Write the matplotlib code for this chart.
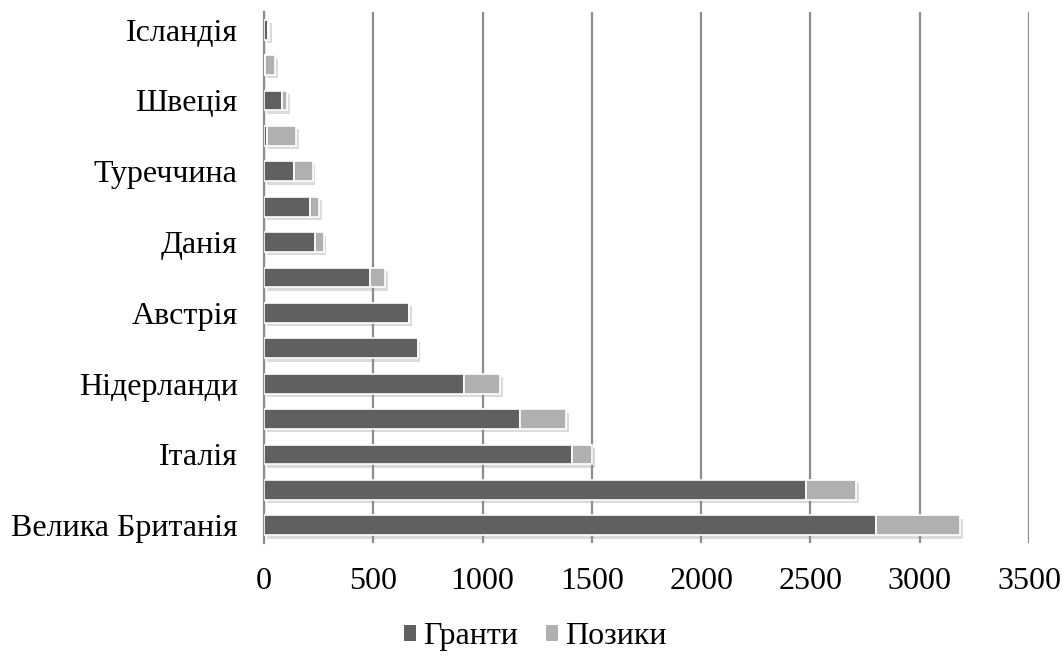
import matplotlib
matplotlib.use('Agg')
import matplotlib.pyplot as plt
import matplotlib.patheffects as pe
from matplotlib.patches import Patch
import numpy as np

plt.rcParams['font.family'] = ['Liberation Serif', 'DejaVu Serif']

# Дані (зверху вниз на графіку)
labels = ['Ісландія', '', 'Швеція', '', 'Туреччина', '', 'Данія', '',
          'Австрія', '', 'Нідерланди', '', 'Італія', '', 'Велика Британія']
granty = [18, 5, 84, 15, 136, 212, 235, 486, 665, 703, 913, 1171, 1407, 2482, 2800]
pozyky = [7, 45, 23, 131, 86, 41, 38, 69, 0, 0, 167, 213, 96, 226, 384]

# Порядок знизу вгору
labels = labels[::-1]
granty = granty[::-1]
pozyky = pozyky[::-1]
y = np.arange(len(labels))

fig = plt.figure(figsize=(10.64, 6.58), dpi=100)
ax = fig.add_axes([0.2481, 0.1748, 0.719, 0.807])

shadow = [pe.SimplePatchShadow(offset=(2, -2.5), shadow_rgbFace='#888888', alpha=0.3), pe.Normal()]

b1 = ax.barh(y, granty, height=0.56, color='#606060', edgecolor='white', linewidth=1.2, zorder=3)
b2 = ax.barh(y, pozyky, left=granty, height=0.56, color='#b0b0b0', edgecolor='white',
             linewidth=1.2, zorder=3)
for bar in list(b1) + list(b2):
    bar.set_path_effects(shadow)

ax.set_xlim(0, 3500)
ax.set_ylim(-0.5, len(labels) - 0.5)
ax.set_xticks(np.arange(0, 3501, 500))
ax.set_yticks(y)
ax.set_yticklabels(labels)
ax.tick_params(axis='both', length=0, labelsize=23)
ax.tick_params(axis='y', pad=19)
ax.tick_params(axis='x', pad=17)
ax.grid(axis='x', color='#8c8c8c', linewidth=1.6, zorder=0)
ax.set_axisbelow(True)

for s in ['top', 'right', 'bottom']:
    ax.spines[s].set_visible(False)
ax.spines['left'].set_color('#8c8c8c')
ax.spines['left'].set_linewidth(1.6)

handles = [Patch(facecolor='#606060', label='Гранти'), Patch(facecolor='#b0b0b0', label='Позики')]
fig.legend(handles=handles, loc='center', bbox_to_anchor=(0.503, 0.032), ncol=2,
           frameon=False, fontsize=23, handlelength=0.38, handleheight=0.38,
           handletextpad=0.2, columnspacing=0.9)

plt.savefig('out.png', dpi=100)
